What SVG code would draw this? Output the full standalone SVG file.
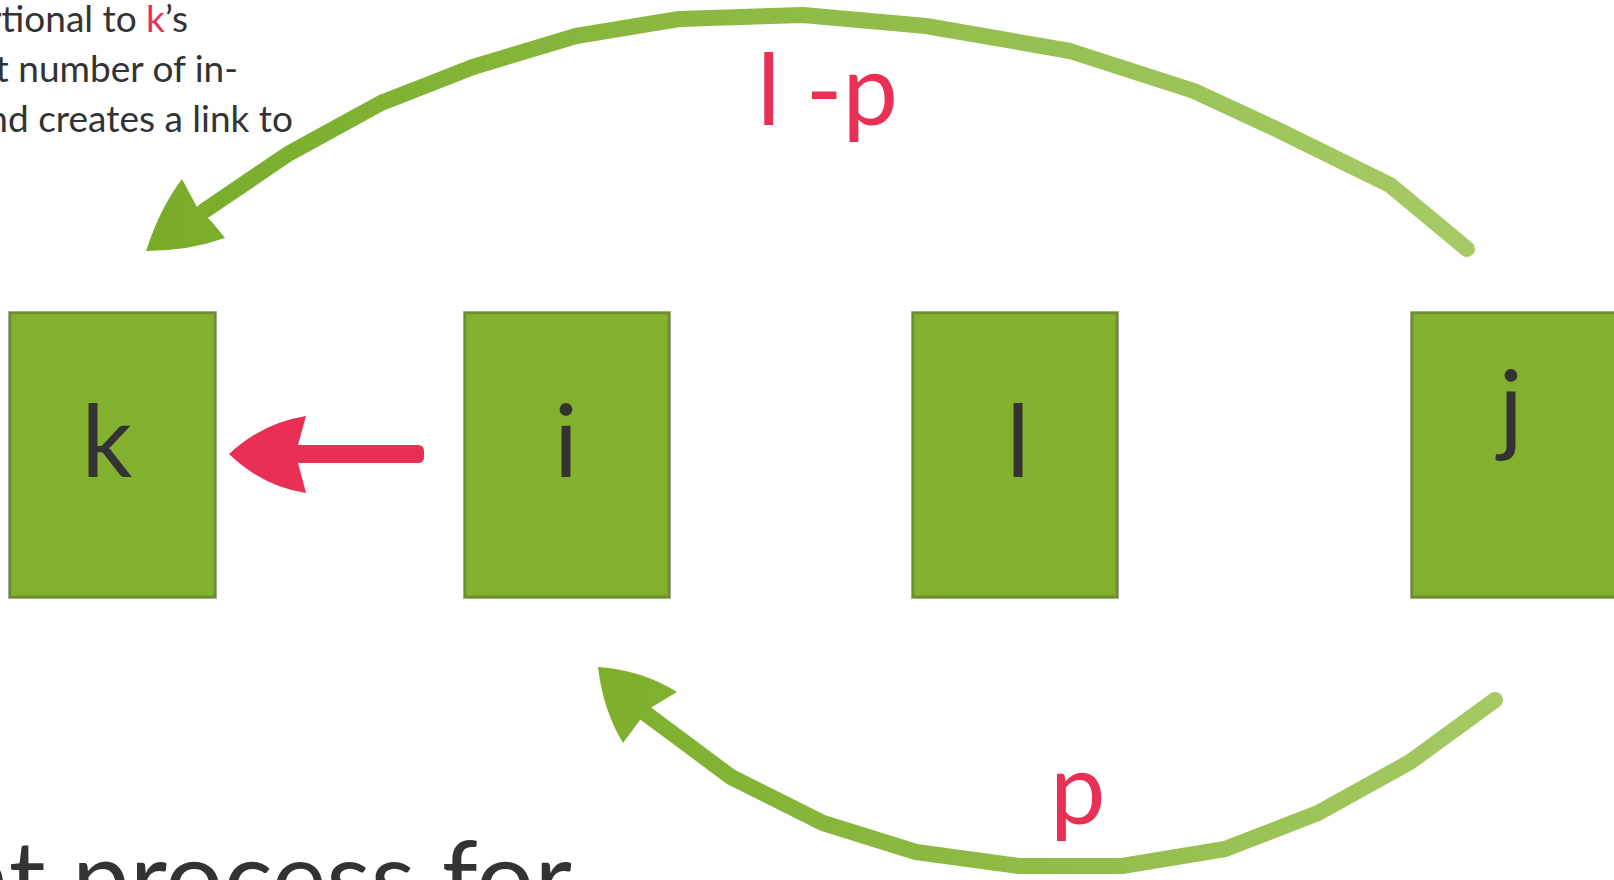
<svg xmlns="http://www.w3.org/2000/svg" width="1614" height="880" viewBox="0 0 1614 880">
<style>
.box{fill:#83B02F;stroke:#6C8F2E;stroke-width:2.5}
.boxo{fill:none;stroke:#B5B5B5;stroke-width:2}
.lbl{font-family:Lato,"Open Sans",sans-serif;font-size:100px;fill:#333333;text-anchor:middle}
.red{font-family:Lato,"Open Sans",sans-serif;font-size:99px;fill:#EA2F55}
.body{font-family:Lato,"Open Sans",sans-serif;font-size:37px;fill:#333333;text-anchor:end}
.big{font-family:Lato,"Open Sans",sans-serif;font-size:103px;fill:#333333;text-anchor:end}
.arc{fill:none;stroke-width:16;stroke-linecap:round;stroke-linejoin:round}
</style>
<defs>
<linearGradient id="gTop" gradientUnits="userSpaceOnUse" x1="147" y1="0" x2="1467" y2="0">
<stop offset="0" stop-color="#78AC28"/>
<stop offset="1" stop-color="#A6CA66"/>
</linearGradient>
<linearGradient id="gBot" gradientUnits="userSpaceOnUse" x1="598" y1="0" x2="1495" y2="0">
<stop offset="0" stop-color="#7DAF2C"/>
<stop offset="1" stop-color="#A5C964"/>
</linearGradient>
</defs>
<rect width="1614" height="880" fill="#FFFFFF"/>

<g id="text-topleft">
<text class="body" x="188" y="32">rtional to <tspan fill="#EA2F55">k</tspan>’s</text>
<text class="body" x="238" y="82">t number of in-</text>
<text class="body" x="293" y="132">nd creates a link to</text>
</g>
<g id="text-bottomleft">
<text class="big" x="572" y="915">nt process for</text>
</g>

<g id="connectors">
<polyline class="arc" stroke="url(#gTop)" points="1467,249 1390,185 1276,129 1194,91 1070,51 926,26 803,15 679,19 576,36 473,67 381,103 288,154 204,211"/>
<path fill="url(#gTop)" d="M146,251 Q160,208 182,179 L197,207 L212,222 L225,238 Q188,251 146,251 Z"/>
<polyline class="arc" stroke="url(#gBot)" points="1495,700 1410,762 1318,813 1225,849 1122,866 1019,866 916,852 823,823 731,777 645,713"/>
<path fill="url(#gBot)" d="M598,667 Q642,670 677,692 L652,707 L640,720 L623,743 Q603,710 598,667 Z"/>
<path id="edge-i-k" fill="#EA2F55" d="M229,454 Q262,423 306,416 L298,445 L418,445 Q424,445 424,451 L424,457 Q424,463 418,463 L298,463 L306,493 Q262,486 229,454 Z"/>
</g>

<g id="node-k">
<rect class="boxo" x="9" y="312" width="207" height="286"/>
<rect class="box" x="10" y="313" width="205" height="284"/>
<text class="lbl" x="107" y="477">k</text>
</g>
<g id="node-i">
<rect class="boxo" x="464" y="312" width="206" height="286"/>
<rect class="box" x="465" y="313" width="204" height="284"/>
<text class="lbl" x="566" y="477">i</text>
</g>
<g id="node-l">
<rect class="boxo" x="912" y="312" width="206" height="286"/>
<rect class="box" x="913" y="313" width="204" height="284"/>
<text class="lbl" x="1018" y="477">l</text>
</g>
<g id="node-j">
<rect class="boxo" x="1411" y="312" width="207" height="286"/>
<rect class="box" x="1412" y="313" width="205" height="284"/>
<text class="lbl" x="1511" y="443">j</text>
</g>

<g id="labels">
<text class="red" x="757" y="125">l -p</text>
<text class="red" x="1050" y="824">p</text>
</g>
</svg>
